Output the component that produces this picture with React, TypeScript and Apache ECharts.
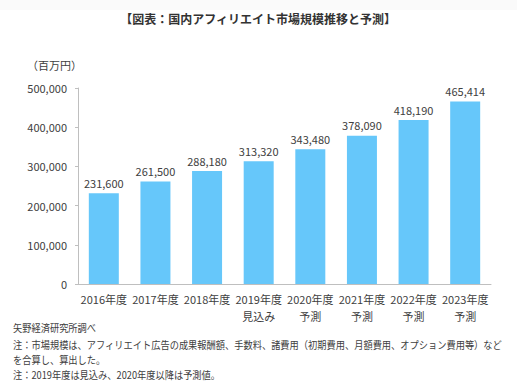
import React, { useEffect, useRef } from "react";
import * as echarts from "echarts";

const categories = [
  "2016年度",
  "2017年度",
  "2018年度",
  "2019年度\n見込み",
  "2020年度\n予測",
  "2021年度\n予測",
  "2022年度\n予測",
  "2023年度\n予測",
];
const values = [231600, 261500, 288180, 313320, 343480, 378090, 418190, 465414];
const yTicks = { min: 0, max: 500000, interval: 100000 };
const title = "【図表：国内アフィリエイト市場規模推移と予測】";
const unitLabel = "（百万円）";
const notes = [
  "矢野経済研究所調べ",
  "注：市場規模は、アフィリエイト広告の成果報酬額、手数料、諸費用（初期費用、月額費用、オプション費用等）など",
  "を合算し、算出した。",
  "注：2019年度は見込み、2020年度以降は予測値。",
];

const FONT = "'Noto Sans CJK JP', 'Noto Sans', sans-serif";
const TEXT = "#404040";

export default function App() {
  const ref = useRef<HTMLDivElement>(null);
  useEffect(() => {
    if (!ref.current) return;
    const chart = echarts.init(ref.current, undefined, { renderer: "svg" });
    const noteY = [328, 345, 360, 375];
    chart.setOption({
      animation: false,
      backgroundColor: "#ffffff",
      textStyle: { fontFamily: FONT },
      grid: { left: 78, right: 26, top: 88, bottom: 101 },
      xAxis: {
        type: "category",
        data: categories,
        axisLine: { lineStyle: { color: "#bfbfbf", width: 1 } },
        axisTick: { show: false },
        axisLabel: {
          color: TEXT,
          fontSize: 11,
          fontFamily: FONT,
          lineHeight: 17,
          margin: 6,
          interval: 0,
        },
      },
      yAxis: {
        type: "value",
        min: yTicks.min,
        max: yTicks.max,
        interval: yTicks.interval,
        axisLine: { show: true, lineStyle: { color: "#bfbfbf", width: 1 } },
        axisTick: { show: true, length: 3, lineStyle: { color: "#bfbfbf" } },
        splitLine: { show: false },
        axisLabel: {
          color: TEXT,
          fontSize: 11,
          fontFamily: FONT,
          margin: 11,
          formatter: (v: number) => v.toLocaleString("en-US"),
        },
      },
      series: [
        {
          type: "bar",
          data: values,
          barWidth: 30,
          itemStyle: { color: "#66c7fa" },
          label: {
            show: true,
            position: "top",
            distance: 5,
            color: TEXT,
            fontSize: 11,
            fontFamily: FONT,
            formatter: (p: any) => Number(p.value).toLocaleString("en-US"),
          },
        },
      ],
      graphic: [
        {
          type: "rect",
          shape: { x: 0, y: 0, width: 517, height: 10 },
          style: { fill: "#fafafa" },
          silent: true,
        },
        {
          type: "text",
          x: 258,
          y: 18,
          style: {
            text: title,
            fill: "#333333",
            font: `bold 12px ${FONT}`,
            align: "center",
            verticalAlign: "middle",
          },
        },
        {
          type: "text",
          x: 27,
          y: 65,
          style: {
            text: unitLabel,
            fill: TEXT,
            font: `11px ${FONT}`,
            align: "left",
            verticalAlign: "middle",
          },
        },
        ...notes.map((t, i) => ({
          type: "text",
          x: 13,
          y: noteY[i],
          scaleX: 0.88,
          style: {
            text: t,
            fill: TEXT,
            font: `10.5px ${FONT}`,
            align: "left",
            verticalAlign: "middle",
          },
        })),
      ],
    });
    return () => chart.dispose();
  }, []);
  return (
    <div
      ref={ref}
      style={{ position: "fixed", left: 0, top: 0, width: 517, height: 385 }}
    />
  );
}
